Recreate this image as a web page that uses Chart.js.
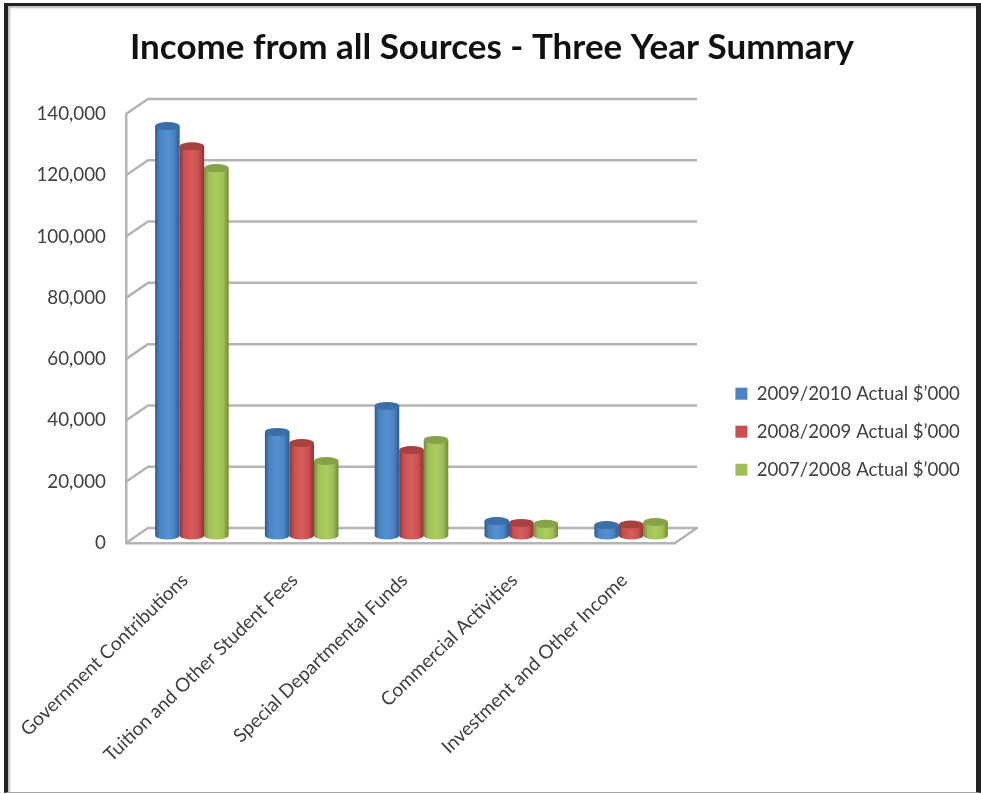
<!DOCTYPE html>
<html>
<head>
<meta charset="utf-8">
<title>Income from all Sources</title>
<script src="https://cdn.jsdelivr.net/npm/chart.js@4/dist/chart.umd.min.js"></script>
<style>
  html, body { margin: 0; padding: 0; background: #fff; overflow: hidden; }
  #wrap { position: relative; width: 981px; height: 794px; }
  canvas { display: block; }
  #frame {
    position: absolute; left: 4px; top: 3px; right: 0; bottom: 1px;
    border-left: 4px solid #222; border-top: 3px solid #222;
    border-right: 5px solid #222; border-bottom: 1px solid #aaa;
    box-shadow: inset 2px 2px 2px #bbb;
    pointer-events: none;
  }
</style>
</head>
<body>
<div id="wrap">
  <canvas id="chart" width="981" height="794"></canvas>
  <div id="frame"></div>
</div>
<script>
const categories = [
  'Government Contributions',
  'Tuition and Other Student Fees',
  'Special Departmental Funds',
  'Commercial Activities',
  'Investment and Other Income'
];
const seriesNames = [
  '2009/2010 Actual $\u2019000',
  '2008/2009 Actual $\u2019000',
  '2007/2008 Actual $\u2019000'
];
const actual2009 = [133600, 33800, 42300, 4700, 3400];
const actual2008 = [127000, 30200, 27900, 4100, 3600];
const actual2007 = [119900, 24300, 31200, 3800, 4400];
const yTicks = { min: 0, max: 140000, step: 20000 };

const fillColors = ['#4A84C4', '#C9504F', '#A0C057'];
const lightColors = ['#5590D2', '#D65E5C', '#ACCC61'];
const darkColors = ['#2C5A90', '#8A3432', '#6F8A3A'];
const capColors = ['#3A6FA8', '#A54240', '#86A34A'];

const fontFamily = 'Lato, "Open Sans", sans-serif';
const wallColor = '#B4B4B4';
const depth = { x: 22, y: 15 };

// A bar element that paints itself as an upright cylinder, halfway into the floor depth.
class CylinderElement extends Chart.BarElement {
  draw(ctx) {
    const { x, y, base, width } = this.getProps(['x', 'y', 'base', 'width']);
    const i = fillColors.indexOf(this.options.backgroundColor);
    const left = x - width / 2 + depth.x / 2;
    const right = left + width;
    const top = y - depth.y / 2;
    const bottom = base - depth.y / 2;
    const cx = (left + right) / 2;
    const ry = 4;
    const rx = width / 2;

    const body = ctx.createLinearGradient(left, 0, right, 0);
    body.addColorStop(0, darkColors[i]);
    body.addColorStop(0.18, fillColors[i]);
    body.addColorStop(0.5, lightColors[i]);
    body.addColorStop(0.78, fillColors[i]);
    body.addColorStop(1, darkColors[i]);

    ctx.save();
    ctx.fillStyle = body;
    ctx.beginPath();
    ctx.moveTo(left, top);
    ctx.lineTo(left, bottom);
    ctx.ellipse(cx, bottom, rx, ry, 0, Math.PI, 0, true);
    ctx.lineTo(right, top);
    ctx.closePath();
    ctx.fill();

    ctx.fillStyle = capColors[i];
    ctx.beginPath();
    ctx.ellipse(cx, top, rx, ry, 0, 0, Math.PI * 2);
    ctx.fill();
    ctx.restore();
  }
}
CylinderElement.id = 'cylinderElement';
CylinderElement.defaults = Chart.BarElement.defaults;
CylinderElement.defaultRoutes = Chart.BarElement.defaultRoutes;

class CylinderController extends Chart.BarController {}
CylinderController.id = 'cylinder';
CylinderController.defaults = Object.assign({}, Chart.BarController.defaults, {
  dataElementType: 'cylinderElement'
});
CylinderController.overrides = Chart.BarController.overrides;
Chart.register(CylinderElement, CylinderController);

// Back wall and floor of the 3D box, positioned from the axis scales.
const wallPlugin = {
  id: 'wall',
  afterLayout(chart) {
    const { legend, titleBlock } = chart;
    titleBlock.left = 0;
    titleBlock.right = 984;
    const h = legend.bottom - legend.top;
    legend.left = 716;
    legend.right = 981;
    legend.top = 365;
    legend.bottom = 365 + h;
    legend.adjustHitBoxes();
  },
  beforeDatasetsDraw(chart) {
    const { ctx, scales } = chart;
    const y = scales.y;
    const left = scales.x.left;
    const right = scales.x.right;
    ctx.save();
    ctx.strokeStyle = wallColor;
    ctx.lineWidth = 2.5;
    ctx.lineJoin = 'round';
    y.ticks.forEach(tick => {
      const py = y.getPixelForValue(tick.value);
      ctx.beginPath();
      ctx.moveTo(left, py);
      ctx.lineTo(left + depth.x, py - depth.y);
      ctx.lineTo(right + depth.x, py - depth.y);
      if (tick.value === yTicks.min) ctx.lineTo(right, py);
      ctx.stroke();
    });
    ctx.restore();
  }
};

new Chart(document.getElementById('chart'), {
  type: 'cylinder',
  data: {
    labels: categories,
    datasets: [
      { label: seriesNames[0], data: actual2009, backgroundColor: fillColors[0] },
      { label: seriesNames[1], data: actual2008, backgroundColor: fillColors[1] },
      { label: seriesNames[2], data: actual2007, backgroundColor: fillColors[2] }
    ]
  },
  plugins: [wallPlugin],
  options: {
    responsive: false,
    animation: false,
    clip: false,
    categoryPercentage: 0.67,
    barPercentage: 1,
    borderWidth: 0,
    layout: { padding: { left: 20, right: 306, top: 0, bottom: 0 } },
    plugins: {
      tooltip: { enabled: false },
      title: {
        display: true,
        text: 'Income from all Sources - Three Year Summary',
        color: '#111',
        font: { family: fontFamily, size: 35, weight: 'bold' },
        padding: { top: 27, bottom: 45 }
      },
      legend: {
        position: 'chartArea',
        align: 'start',
        labels: {
          color: '#404040',
          font: { family: fontFamily, size: 18.6 },
          boxWidth: 12,
          boxHeight: 12,
          padding: 19.4
        }
      }
    },
    scales: {
      x: {
        grid: { display: false },
        border: { color: wallColor, width: 2.5 },
        afterFit(scale) {
          scale.height = 251;
          scale.paddingLeft = 0;
          scale.paddingRight = 0;
        },
        ticks: {
          autoSkip: false,
          minRotation: 44,
          maxRotation: 44,
          labelOffset: 4,
          padding: 18,
          color: '#404040',
          font: { family: fontFamily, size: 19 }
        }
      },
      y: {
        min: yTicks.min,
        max: yTicks.max,
        grid: { display: false },
        border: { color: wallColor, width: 2.5 },
        afterFit(scale) { scale.width = 106; },
        ticks: {
          stepSize: yTicks.step,
          padding: 12,
          color: '#404040',
          font: { family: fontFamily, size: 18.8 },
          callback: v => v.toLocaleString('en-US')
        }
      }
    }
  }
});
</script>
</body>
</html>
